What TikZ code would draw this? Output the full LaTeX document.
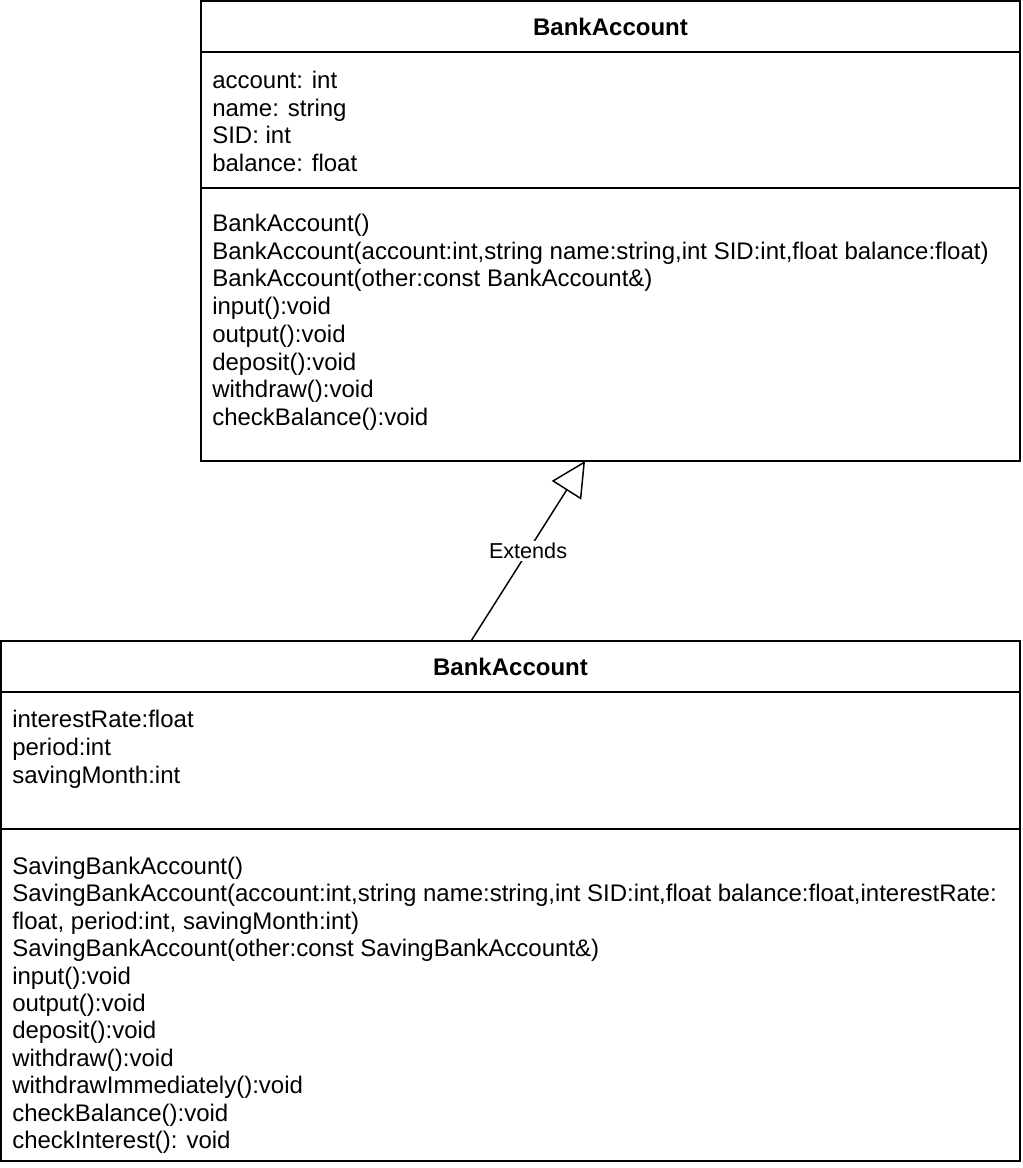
\documentclass[tikz,border=0pt]{standalone}
\usepackage{fontspec}
\setmainfont{Liberation Sans}
\usetikzlibrary{arrows.meta}
\tikzset{
  classbox/.style={draw=black, line width=1.1pt, anchor=north west, inner sep=0pt, outer sep=0pt},
  member/.style={anchor=base west, inner sep=0pt, font=\fontsize{18pt}{20.8pt}\selectfont},
  classname/.style={anchor=base, inner sep=0pt, font=\fontsize{18pt}{20.8pt}\selectfont\bfseries},
  divider/.style={draw=black, line width=1.1pt},
  edgelabel/.style={fill=white, inner sep=1.5pt, font=\fontsize{16.2pt}{19pt}\selectfont},
  extends/.style={draw=black, line width=1.1pt, -{Triangle[open, length=26pt, width=26pt]}}
}
\begin{document}
\begin{tikzpicture}[x=0.75pt, y=-0.75pt]
\useasboundingbox (0,0) rectangle (1022,1168);
% ---------- super class ----------
\node[classbox, minimum width=614.25pt, minimum height=345pt] (base) at (201,1) {};
\draw[divider] (201,52) -- (1020,52);
\draw[divider] (201,188) -- (1020,188);
\node[classname] (basename) at (610.5,35) {BankAccount};
\foreach \t [count=\i from 0] in {account: int, name: string, SID: int, balance: float}
  \node[member] (ba\i) at (212,{88.5+27.7*\i}) {\t};
\foreach \t [count=\i from 0] in {
  {BankAccount()},
  {BankAccount(account:int,string name:string,int SID:int,float balance:float)},
  {BankAccount(other:const BankAccount\&)},
  {input():void},
  {output():void},
  {deposit():void},
  {withdraw():void},
  {checkBalance():void}}
  \node[member] (bm\i) at (212,{231.5+27.7*\i}) {\t};
% ---------- sub class ----------
\node[classbox, minimum width=764.25pt, minimum height=390pt] (sub) at (1,641) {};
\draw[divider] (1,692) -- (1020,692);
\draw[divider] (1,829) -- (1020,829);
\node[classname] (subname) at (510.5,675) {BankAccount};
\foreach \t [count=\i from 0] in {interestRate:float, period:int, savingMonth:int}
  \node[member] (sa\i) at (12,{727.7+27.7*\i}) {\t};
\foreach \t [count=\i from 0] in {
  {SavingBankAccount()},
  {SavingBankAccount(account:int,string name:string,int SID:int,float balance:float,interestRate:},
  {float, period:int, savingMonth:int)},
  {SavingBankAccount(other:const SavingBankAccount\&)},
  {input():void},
  {output():void},
  {deposit():void},
  {withdraw():void},
  {withdrawImmediately():void},
  {checkBalance():void},
  {checkInterest(): void}}
  \node[member] (sm\i) at (12,{874.5+27.4*\i}) {\t};
% ---------- generalisation ----------
\draw[extends] ([xshift=-29.6pt]sub.north) -- node[edgelabel, pos=0.5] (ext) {Extends} ([xshift=-19.1pt]base.south);
\end{tikzpicture}
\end{document}
